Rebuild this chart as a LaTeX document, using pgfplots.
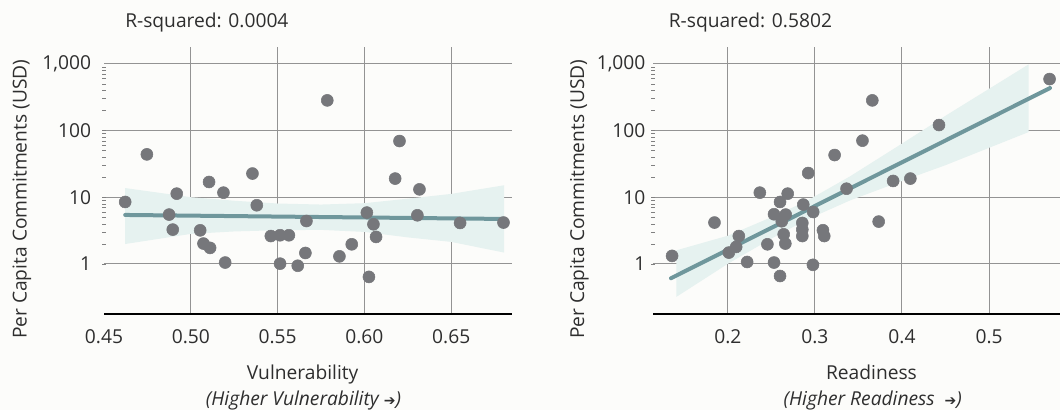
\documentclass[border=0pt]{standalone}
\usepackage{pgfplots}
\pgfplotsset{compat=1.18}
\usepackage{fontspec}
\setmainfont{Open Sans}
\newfontfamily\symfont{DejaVu Sans}

\definecolor{bg}{HTML}{FCFCFA}
\definecolor{dotc}{HTML}{76777B}
\definecolor{fitc}{HTML}{6F979C}
\definecolor{bandc}{HTML}{E6F2F0}
\definecolor{gridc}{HTML}{939393}
\definecolor{txt}{HTML}{2E2E2E}

\newcommand{\lbl}{\fontsize{14.4}{17}\selectfont}
\newcommand{\arr}{{\upshape\symfont\fontsize{10.5}{10.5}\selectfont ➔}}

\begin{document}
\begin{tikzpicture}
\fill[bg] (0,0) rectangle (795pt,307.5pt);
\useasboundingbox (0,0) rectangle (795pt,307.5pt);

% left: vulnerability
\begin{axis}[at={(78pt,72pt)}, anchor=south west,
  scale only axis, width=306pt, height=200.25pt,
  ymode=log, ymin=0.178, ymax=1778,
  ytick={1,10,100,1000}, yticklabels={1,10,100,{1,000}},
  axis x line=bottom, axis y line=left,
  x axis line style={-, black, line width=2pt},
  y axis line style={draw=none},
  major tick length=0pt,
  xmajorgrids, ymajorgrids,
  major grid style={gridc, line width=0.75pt},
  tick label style={font=\lbl, text=txt},
  xticklabel style={anchor=base, yshift=-22.5pt, inner sep=0pt},
  yticklabel style={anchor=east, inner sep=0pt, xshift=-9.5pt},
  xmin=0.45, xmax=0.685,
  xtick={0.5,0.55,0.6,0.65}, xticklabels={0.50,0.55,0.60,0.65},
  extra x ticks={0.45}, extra x tick labels={0.45},
  extra x tick style={xmajorgrids=false}]
\addplot[fill=bandc, draw=none] coordinates {
  (0.4622,13.7) (0.50,10.0) (0.525,8.85) (0.55,8.04) (0.575,7.76) (0.60,8.13)
  (0.625,9.5) (0.65,11.2) (0.6805,15.1)
  (0.6805,1.48) (0.65,2.14) (0.625,2.5) (0.60,3.02) (0.575,3.24) (0.55,3.20)
  (0.525,3.07) (0.50,2.82) (0.4622,1.99)} -- cycle;
\addplot[fitc, line width=3pt, line cap=round] coordinates {(0.4622,5.42) (0.6805,4.72)};
\addplot[dotc, only marks, mark=*, mark size=4.5pt, mark options={draw=none, fill=dotc}] coordinates {
  (0.4622,8.48) (0.4919,11.3) (0.5105,16.9) (0.5188,11.7) (0.5355,22.6)
  (0.5380,7.57) (0.4875,5.49) (0.4896,3.27) (0.5054,3.19) (0.5073,2.02)
  (0.5111,1.74) (0.5198,1.05) (0.5461,2.62) (0.5514,2.69) (0.5565,2.69)
  (0.5514,1.01) (0.5616,0.94) (0.5660,1.46) (0.5666,4.40) (0.5856,1.30)
  (0.5927,1.97) (0.6014,5.88) (0.6052,3.93) (0.6067,2.54) (0.6177,19.0)
  (0.6317,13.1) (0.6305,5.36) (0.6551,4.11) (0.6801,4.17) (0.5786,282)
  (0.4747,43.8) (0.6202,69.4) (0.6026,0.64)};
\end{axis}

% right: readiness
\begin{axis}[at={(489.75pt,72pt)}, anchor=south west,
  scale only axis, width=305.25pt, height=200.25pt,
  ymode=log, ymin=0.178, ymax=1778,
  ytick={1,10,100,1000}, yticklabels={1,10,100,{1,000}},
  axis x line=bottom, axis y line=left,
  x axis line style={-, black, line width=2pt},
  y axis line style={draw=none},
  major tick length=0pt,
  xmajorgrids, ymajorgrids,
  major grid style={gridc, line width=0.75pt},
  tick label style={font=\lbl, text=txt},
  xticklabel style={anchor=base, yshift=-22.5pt, inner sep=0pt},
  yticklabel style={anchor=east, inner sep=0pt, xshift=-5.5pt},
  xmin=0.114, xmax=0.5815,
  xtick={0.2,0.3,0.4,0.5}, xticklabels={0.2,0.3,0.4,0.5}]
\addplot[fill=bandc, draw=none] coordinates {
  (0.1408,1.60) (0.20,2.65) (0.25,5.01) (0.29,8.71) (0.34,20.4) (0.40,63.5)
  (0.45,166) (0.5455,977)
  (0.5455,94.6) (0.45,30.2) (0.40,17.5) (0.34,8.91) (0.29,4.57) (0.25,2.40)
  (0.20,1.007) (0.1408,0.321)} -- cycle;
\addplot[fitc, line width=3pt, line cap=round] coordinates {(0.1347,0.611) (0.5700,431.5)};
\addplot[dotc, only marks, mark=*, mark size=4.5pt, mark options={draw=none, fill=dotc}] coordinates {
  (0.1359,1.32) (0.1846,4.17) (0.2011,1.48) (0.2095,1.80) (0.2126,2.62)
  (0.2221,1.07) (0.2367,11.7) (0.2454,1.97) (0.2530,1.05) (0.2599,0.66)
  (0.2530,5.55) (0.2599,8.48) (0.2687,11.3) (0.2664,5.49) (0.2619,4.36)
  (0.2641,2.78) (0.2660,2.02) (0.2866,7.75) (0.2855,4.11) (0.2855,3.27)
  (0.2855,2.62) (0.2980,6.0) (0.2977,0.97) (0.3092,3.2) (0.3107,2.62)
  (0.2923,23) (0.3226,42.8) (0.3363,13.4) (0.3659,282) (0.4425,120.5)
  (0.3546,70.3) (0.3898,17.5) (0.4096,19.0) (0.3732,4.31) (0.5695,588)};
\end{axis}

% titles
\node[anchor=base west, inner sep=0, font=\lbl, text=txt] at (93.75pt,287pt) {R-squared: 0.0004};
\node[anchor=base west, inner sep=0, font=\lbl, text=txt] at (501.4pt,287pt) {R-squared: 0.5802};
% y labels
\node[rotate=90, anchor=base, inner sep=0, font=\lbl, text=txt] at (20pt,158pt) {Per Capita Commitments (USD)};
\node[rotate=90, anchor=base, inner sep=0, font=\lbl, text=txt] at (438pt,158pt) {Per Capita Commitments (USD)};
% x labels
\node[anchor=base, inner sep=0, font=\lbl, text=txt] at (227pt,22.5pt) {Vulnerability};
\node[anchor=base, inner sep=0, font=\lbl, text=txt] at (227.6pt,3.2pt) {\itshape(Higher Vulnerability \arr)};
\node[anchor=base, inner sep=0, font=\lbl, text=txt] at (653.6pt,22.5pt) {Readiness};
\node[anchor=base, inner sep=0, font=\lbl, text=txt] at (654.6pt,3.2pt) {\itshape(Higher Readiness\ \ \arr)};
\end{tikzpicture}
\end{document}
